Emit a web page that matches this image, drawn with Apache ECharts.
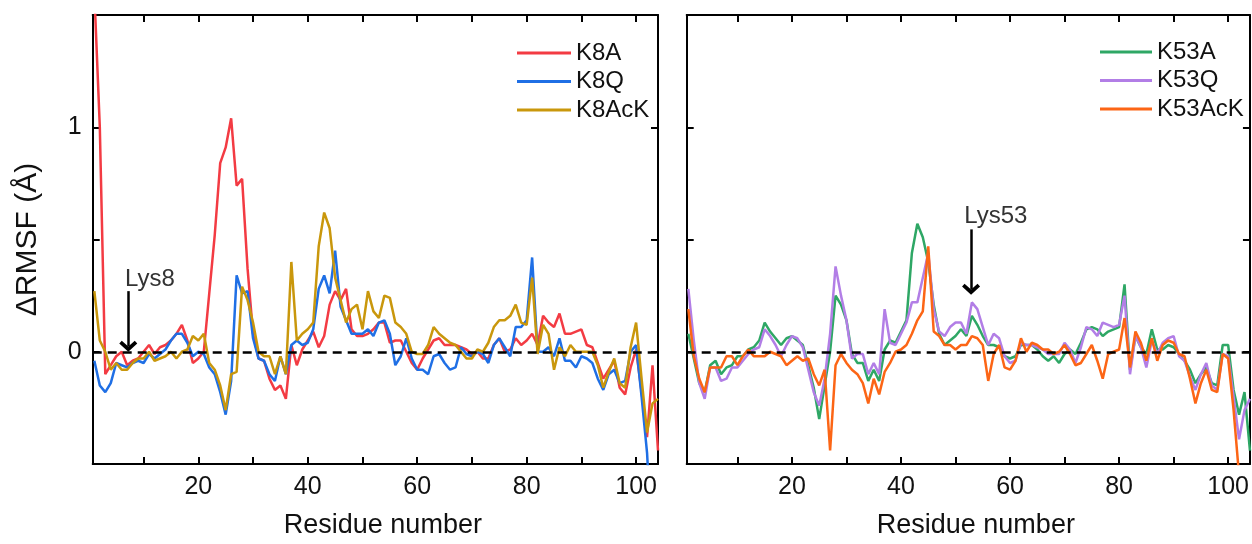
<!DOCTYPE html>
<html>
<head>
<meta charset="utf-8">
<script src="https://cdn.jsdelivr.net/npm/echarts@6/dist/echarts.min.js"></script>
<style>
html,body{margin:0;padding:0;background:#fff;}
#chart{width:1252px;height:544px;}
</style>
</head>
<body>
<div id="chart"></div>
<script>
// ---- data (ΔRMSF in Å per residue 1..104) ----
const K8A = [1.6,1.0,-0.1,-0.06,-0.02,0.0,-0.06,-0.04,-0.03,0.0,
  0.03,-0.01,0.02,0.03,0.05,0.08,0.12,0.05,-0.05,-0.03,
  0.0,0.26,0.52,0.84,0.91,1.04,0.74,0.77,0.37,0.08,
  -0.03,-0.04,-0.12,-0.17,-0.15,-0.21,0.03,-0.06,0.01,0.05,
  0.09,0.02,0.07,0.21,0.27,0.23,0.28,0.1,0.07,0.07,
  0.08,0.1,0.13,0.13,0.04,0.05,0.05,0.0,-0.05,-0.08,
  -0.03,0.01,0.05,0.06,0.03,0.03,0.03,0.02,0.01,-0.01,
  0.0,-0.03,-0.03,0.03,0.06,0.0,0.01,0.06,0.03,0.05,
  0.08,0.03,0.16,0.13,0.11,0.17,0.08,0.08,0.09,0.1,
  0.03,0.02,-0.05,-0.12,-0.08,-0.04,-0.16,-0.19,-0.07,0.01,
  -0.18,-0.38,-0.06,-0.44];
const K8Q = [-0.04,-0.15,-0.18,-0.14,-0.05,-0.06,-0.07,-0.05,-0.04,-0.05,
  -0.01,-0.03,-0.01,0.01,0.05,0.08,0.08,0.04,-0.02,0.0,
  -0.01,-0.07,-0.10,-0.18,-0.28,-0.13,0.34,0.26,0.27,0.06,
  -0.03,-0.04,-0.1,-0.13,-0.02,-0.1,0.03,0.05,0.03,0.04,
  0.1,0.28,0.34,0.26,0.45,0.2,0.14,0.08,0.08,0.08,
  0.1,0.07,0.13,0.14,0.08,-0.06,-0.02,0.06,-0.03,-0.08,
  -0.08,-0.1,-0.02,-0.01,-0.05,-0.08,-0.07,0.02,-0.01,-0.02,
  0.0,-0.01,-0.05,0.03,0.06,0.02,-0.02,0.11,0.11,0.14,
  0.42,0.0,0.0,0.02,-0.02,0.06,-0.04,-0.04,-0.07,-0.02,
  -0.03,-0.05,-0.12,-0.17,-0.1,-0.08,-0.14,-0.13,0.0,0.03,
  -0.2,-0.45,-0.9,-0.9];
const K8AcK = [0.27,0.05,0.0,-0.08,-0.05,-0.08,-0.08,-0.05,-0.03,-0.03,
  0.0,-0.04,-0.03,-0.02,0.0,-0.03,0.0,0.01,0.07,0.05,
  0.08,-0.05,-0.08,-0.15,-0.26,-0.1,-0.09,0.29,0.23,0.13,
  0.0,-0.02,-0.02,-0.1,-0.02,-0.1,0.4,0.05,0.08,0.1,
  0.13,0.47,0.62,0.55,0.33,0.23,0.13,0.19,0.21,0.1,
  0.27,0.18,0.15,0.25,0.24,0.13,0.11,0.08,0.0,-0.01,
  -0.01,0.03,0.11,0.08,0.06,0.04,0.03,0.0,-0.03,-0.03,
  0.01,0.0,0.04,0.11,0.14,0.14,0.16,0.21,0.13,0.12,
  0.33,-0.01,0.12,0.08,-0.08,0.02,-0.02,0.03,0.0,0.0,
  0.0,0.0,-0.06,-0.16,-0.09,-0.03,-0.14,-0.16,0.02,0.13,
  -0.12,-0.36,-0.23,-0.21];
const K53A = [0.08,-0.03,-0.14,-0.18,-0.06,-0.04,-0.1,-0.07,-0.06,-0.02,
  -0.02,0.01,0.02,0.05,0.13,0.09,0.06,0.03,0.06,0.07,
  0.05,0.03,-0.06,-0.16,-0.3,-0.15,0.0,0.25,0.21,0.14,
  -0.01,-0.05,-0.05,-0.13,-0.08,-0.13,0.01,0.05,0.04,0.09,
  0.14,0.44,0.57,0.51,0.4,0.21,0.08,0.03,0.05,0.07,
  0.1,0.07,0.16,0.12,0.07,0.03,0.03,0.02,-0.02,-0.03,
  -0.02,0.03,0.03,0.03,0.01,-0.02,-0.04,-0.02,-0.05,-0.01,
  0.01,-0.01,0.04,0.1,0.11,0.1,0.07,0.09,0.1,0.11,
  0.3,-0.08,0.07,0.02,-0.01,0.1,0.01,0.01,0.03,0.02,
  -0.01,-0.04,-0.08,-0.14,-0.1,-0.07,-0.14,-0.15,0.03,0.03,
  -0.17,-0.28,-0.18,-0.44];
const K53Q = [0.28,0.05,-0.14,-0.21,-0.07,-0.07,-0.13,-0.12,-0.07,-0.07,
  -0.04,-0.01,0.01,0.02,0.1,0.07,0.03,-0.02,0.03,0.07,
  0.06,0.02,-0.08,-0.18,-0.24,-0.12,0.08,0.38,0.25,0.14,
  -0.03,-0.01,-0.01,-0.1,-0.05,-0.1,0.19,0.04,0.03,0.08,
  0.13,0.22,0.22,0.33,0.44,0.19,0.09,0.07,0.11,0.13,
  0.13,0.08,0.22,0.19,0.11,0.03,0.08,0.06,-0.02,-0.05,
  -0.04,0.04,0.03,0.03,0.02,0.01,-0.01,-0.01,-0.01,0.04,
  0.01,-0.05,0.02,0.11,0.1,0.07,0.13,0.12,0.11,0.12,
  0.25,-0.1,0.07,0.02,-0.07,0.05,-0.01,0.04,0.06,0.07,
  -0.02,-0.04,-0.11,-0.17,-0.1,-0.05,-0.15,-0.17,-0.01,-0.02,
  -0.2,-0.39,-0.26,-0.21];
const K53AcK = [0.19,-0.02,-0.12,-0.18,-0.07,-0.07,-0.07,-0.02,-0.02,-0.06,
  -0.02,0.01,-0.02,-0.02,-0.02,0.0,-0.01,-0.02,-0.06,-0.04,
  -0.02,-0.04,-0.03,-0.1,-0.15,-0.08,-0.44,-0.06,-0.01,-0.05,
  -0.08,-0.1,-0.14,-0.23,-0.12,-0.19,-0.09,-0.05,0.0,0.01,
  0.03,0.08,0.14,0.18,0.47,0.09,0.07,0.03,0.03,0.01,
  0.03,0.03,0.07,0.06,0.03,-0.13,-0.01,0.03,-0.07,-0.08,
  -0.04,0.06,0.0,0.04,0.03,0.01,0.01,-0.01,0.0,0.03,
  -0.01,-0.06,-0.05,-0.01,0.03,-0.04,-0.12,-0.01,0.0,0.01,
  0.15,-0.07,0.09,0.04,-0.04,0.06,-0.04,0.03,0.05,0.04,
  -0.01,-0.02,-0.12,-0.23,-0.14,-0.08,-0.17,-0.18,-0.01,-0.03,
  -0.26,-0.55,-0.9,-0.9];

const residues = K8A.map((_, i) => i + 1);
const xTickValues = [10,20,30,40,50,60,70,80,90,100];
const xLabelValues = [20,40,60,80,100];
const yLabelValues = [0, 1];
// annotations: [residue, ΔRMSF]
const lys8Label = [6.6, 0.322];
const lys8Arrow = [[7.2, 0.27], [7.2, 0.024]];
const lys53Label = [51.6, 0.603];
const lys53Arrow = [[52.85, 0.545], [52.85, 0.278]];

const FONT = '"Liberation Sans", Arial, Helvetica, sans-serif';
const TXT = '#111';
const chevron = 'path://M0,8 L9,0 L18,8 L15.5,10.5 L9,5 L2.5,10.5 Z';

function pts(arr){ return arr.map((v, i) => [residues[i], v]); }

function xAx(grid, pos, labels){
  return {
    type: 'value', gridIndex: grid, position: pos, min: 0.7, max: 104,
    axisLine: {show: true, onZero: false, lineStyle: {color: '#000', width: 2}},
    axisTick: {show: true, inside: true, length: 7, customValues: xTickValues, lineStyle: {color: '#000', width: 2}},
    axisLabel: {show: labels, customValues: xLabelValues, fontSize: 25, color: TXT, fontFamily: FONT, margin: 11},
    splitLine: {show: false},
    name: labels ? 'Residue number' : '',
    nameLocation: 'middle', nameGap: 48,
    nameTextStyle: {fontSize: 27, color: TXT, fontFamily: FONT, padding: [0, 0, 0, 15]}
  };
}
function yAx(grid, pos, labels, name){
  return {
    type: 'value', gridIndex: grid, position: pos, min: -0.5, max: 1.5, interval: 0.5,
    axisLine: {show: true, onZero: false, lineStyle: {color: '#000', width: 2}},
    axisTick: {show: true, inside: true, length: 7, lineStyle: {color: '#000', width: 2}},
    axisLabel: {show: labels, fontSize: 25, color: TXT, fontFamily: FONT, margin: 11,
      formatter: v => (yLabelValues.indexOf(v) >= 0 ? String(v) : '')},
    splitLine: {show: false},
    name: name || '', nameLocation: 'middle', nameGap: 50,
    nameTextStyle: {fontSize: 30, color: TXT, fontFamily: FONT}
  };
}
function line(name, data, color, xi, yi, extra){
  return Object.assign({
    name, type: 'line', xAxisIndex: xi, yAxisIndex: yi, data: pts(data),
    symbol: 'none', showSymbol: false, clip: true,
    lineStyle: {color, width: 2.5}, itemStyle: {color}, z: 3
  }, extra || {});
}
const zeroLine = {
  silent: true, symbol: 'none', animation: false,
  label: {show: false},
  lineStyle: {color: '#000', type: [9, 6], width: 2.5},
  data: [{yAxis: 0}]
};
function arrow(seg, label){
  return {
    markLine: {
      silent: true, animation: false, label: {show: false},
      symbol: ['none', chevron], symbolSize: [18, 11],
      lineStyle: {color: '#000', type: 'solid', width: 2.5},
      data: [[{coord: seg[0]}, {coord: seg[1]}]]
    },
    markPoint: {
      silent: true, animation: false, symbol: 'rect', symbolSize: 0,
      label: {show: true, position: 'right', distance: 0, formatter: label.text,
        fontSize: 24, color: '#333', fontFamily: FONT},
      data: [{coord: label.at}]
    }
  };
}

const chart = echarts.init(document.getElementById('chart'), null, {renderer: 'canvas'});
chart.setOption({
  animation: false,
  backgroundColor: '#fff',
  grid: [
    {left: 92.7, top: 15, width: 565.3, height: 456.5},
    {left: 686.7, top: 15, width: 564.3, height: 456.5}
  ],
  xAxis: [xAx(0, 'bottom', true), xAx(0, 'top', false), xAx(1, 'bottom', true), xAx(1, 'top', false)],
  yAxis: [yAx(0, 'left', true, 'ΔRMSF (Å)'), yAx(0, 'right', false), yAx(1, 'left', false), yAx(1, 'right', false)],
  legend: [
    {data: ['K8A', 'K8Q', 'K8AcK'], orient: 'vertical', left: 512, top: 36, icon: 'rect',
      itemWidth: 54, itemHeight: 3, itemGap: 4.5, textStyle: {fontSize: 24, color: TXT, fontFamily: FONT}},
    {data: ['K53A', 'K53Q', 'K53AcK'], orient: 'vertical', left: 1095, top: 35, icon: 'rect',
      itemWidth: 52, itemHeight: 3, itemGap: 4.5, textStyle: {fontSize: 24, color: TXT, fontFamily: FONT}}
  ],
  series: [
    line('K8A', K8A, '#f33b43', 0, 0, {markLine: zeroLine}),
    line('K8Q', K8Q, '#1f6fe5', 0, 0, arrow(lys8Arrow, {text: 'Lys8', at: lys8Label})),
    line('K8AcK', K8AcK, '#c9970c', 0, 0),
    line('K53A', K53A, '#2ea765', 2, 2, {markLine: zeroLine}),
    line('K53Q', K53Q, '#b27ee6', 2, 2, arrow(lys53Arrow, {text: 'Lys53', at: lys53Label})),
    line('K53AcK', K53AcK, '#fc6515', 2, 2)
  ]
});
</script>
</body>
</html>
